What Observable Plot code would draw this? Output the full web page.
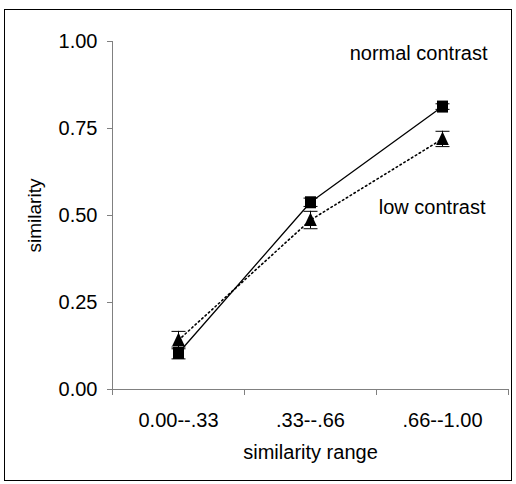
<!DOCTYPE html>
<html>
<head>
<meta charset="utf-8">
<script src="https://cdn.jsdelivr.net/npm/d3@7"></script>
<script src="https://cdn.jsdelivr.net/npm/@observablehq/plot@0.6"></script>
<style>
  html, body { margin: 0; padding: 0; background: #fff; }
  #wrap { position: relative; width: 516px; height: 484px; }
  #frame { position: absolute; left: 4px; top: 9px; width: 506px; height: 470px; border: 1px solid #000; pointer-events: none; }
</style>
</head>
<body>
<div id="wrap"><div id="frame"></div></div>
<script>
const categories = ["0.00--.33", ".33--.66", ".66--1.00"];
const normalValues = [0.105, 0.538, 0.813];
const normalErrors = [0.017, 0.012, 0.008];
const lowValues = [0.142, 0.487, 0.720];
const lowErrors = [0.025, 0.025, 0.022];
const yTicks = [0, 0.25, 0.5, 0.75, 1];
const seriesLabels = ["normal contrast", "low contrast"];
const xTitle = "similarity range";
const yTitle = "similarity";

const boundaries = d3.range(categories.length + 1);
const centers = categories.map((c, i) => i + 0.5);
const normal = categories.map((c, i) => ({x: i + 0.5, y: normalValues[i], lo: normalValues[i] - normalErrors[i], hi: normalValues[i] + normalErrors[i]}));
const low = categories.map((c, i) => ({x: i + 0.5, y: lowValues[i], lo: lowValues[i] - lowErrors[i], hi: lowValues[i] + lowErrors[i]}));

const squareSym = {draw(ctx) { ctx.rect(-5.5, -6, 11, 12); }};
const triangleSym = {draw(ctx) { ctx.moveTo(0, -7.5); ctx.lineTo(6.3, 6); ctx.lineTo(-6.3, 6); ctx.closePath(); }};
const capSym = {draw(ctx) { ctx.moveTo(-7, 0); ctx.lineTo(7, 0); }};

const axisGray = "#808080";

const errMarks = (data) => [
  Plot.ruleX(data, {x: "x", y1: "lo", y2: "hi", stroke: "#000", strokeWidth: 1}),
  Plot.dot(data, {x: "x", y: "lo", symbol: capSym, stroke: "#000", fill: "none", strokeWidth: 1}),
  Plot.dot(data, {x: "x", y: "hi", symbol: capSym, stroke: "#000", fill: "none", strokeWidth: 1})
];

const chart = Plot.plot({
  width: 516,
  height: 484,
  marginLeft: 112,
  marginRight: 8,
  marginTop: 41,
  marginBottom: 95,
  style: {fontFamily: "'Liberation Sans', Arial, sans-serif", fontSize: "20px", color: "#000", background: "transparent"},
  x: {type: "linear", domain: [0, categories.length]},
  y: {domain: [0, 1]},
  marks: [
    Plot.axisY({ticks: yTicks, tickFormat: d3.format(".2f"), tickSize: 5, tickPadding: 10, stroke: axisGray, label: null, fontSize: 20}),
    Plot.axisX({ticks: boundaries, tickFormat: () => "", tickSize: 6, stroke: axisGray, label: null}),
    Plot.axisX({ticks: centers, tickFormat: d => categories[Math.floor(d)], tickSize: 0, tickPadding: 23, label: null, fontSize: 20}),
    Plot.ruleX([0], {stroke: axisGray}),
    Plot.ruleY([0], {stroke: axisGray}),
    Plot.text([xTitle], {frameAnchor: "bottom", lineAnchor: "middle", dy: 63, fontSize: 20}),
    Plot.text([yTitle], {frameAnchor: "left", rotate: -90, textAnchor: "middle", lineAnchor: "middle", dx: -78, fontSize: 19}),
    Plot.text([seriesLabels[0]], {frameAnchor: "top-right", textAnchor: "end", lineAnchor: "middle", dx: -21, dy: 12, fontSize: 20}),
    Plot.text([seriesLabels[1]], {frameAnchor: "top-right", textAnchor: "end", lineAnchor: "middle", dx: -23, dy: 166, fontSize: 20}),
    // normal contrast
    Plot.line(normal, {x: "x", y: "y", stroke: "#000", strokeWidth: 1.3}),
    ...errMarks(normal),
    Plot.dot(normal, {x: "x", y: "y", symbol: squareSym, fill: "#000", stroke: "none"}),
    // low contrast
    Plot.line(low, {x: "x", y: "y", stroke: "#000", strokeWidth: 1.6, strokeDasharray: "1.5,3"}),
    ...errMarks(low),
    Plot.dot(low, {x: "x", y: "y", symbol: triangleSym, fill: "#000", stroke: "none"})
  ]
});
chart.style.position = "absolute";
chart.style.left = "0px";
chart.style.top = "0px";
document.getElementById("wrap").appendChild(chart);
</script>
</body>
</html>
